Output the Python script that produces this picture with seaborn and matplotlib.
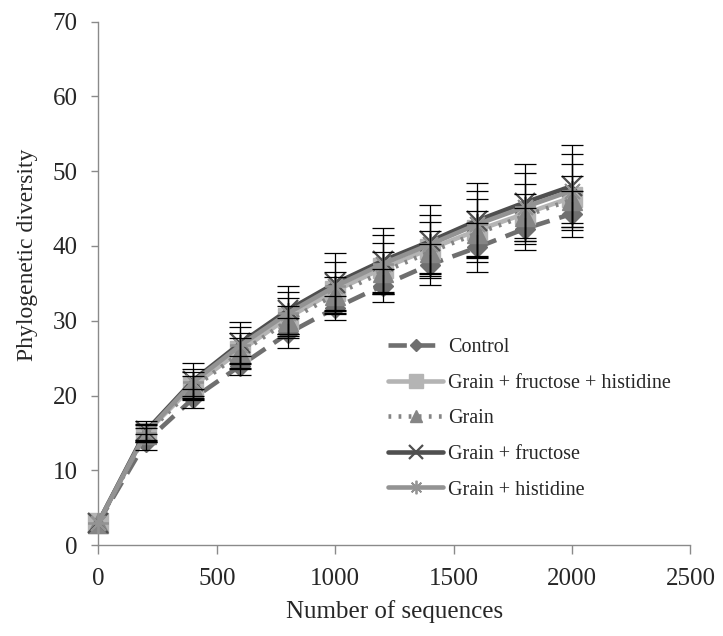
import matplotlib
matplotlib.use("Agg")
import matplotlib.pyplot as plt
import seaborn as sns
import pandas as pd

# Rarefaction: number of sequences sampled
sequences = [0, 200, 400, 600, 800, 1000, 1200, 1400, 1600, 1800, 2000]

# Mean phylogenetic diversity per treatment
control = [3.0, 13.8, 19.6, 24.0, 28.3, 31.7, 34.7, 37.5, 39.8, 42.3, 44.3]
grain_fru_his = [3.0, 15.0, 21.3, 26.0, 30.4, 34.0, 37.0, 39.6, 42.1, 44.3, 46.5]
grain = [3.0, 14.8, 21.0, 25.7, 30.0, 33.5, 36.5, 39.2, 41.7, 44.0, 46.2]
grain_fru = [3.0, 15.2, 22.0, 27.0, 31.4, 35.0, 38.0, 40.6, 43.4, 45.8, 48.0]
grain_his = [3.0, 15.0, 21.8, 26.7, 31.0, 34.6, 37.6, 40.2, 42.9, 45.2, 47.4]

# Error (± one standard deviation)
control_err = [0, 1.1, 1.3, 1.3, 2.0, 1.6, 2.2, 2.7, 3.3, 2.8, 3.1]
grain_fru_his_err = [0, 1.0, 1.8, 2.4, 2.7, 2.5, 3.4, 3.6, 4.2, 4.0, 4.4]
grain_err = [0, 0.9, 1.6, 2.0, 2.0, 2.4, 2.7, 2.8, 3.0, 2.9, 3.1]
grain_fru_err = [0, 1.4, 2.4, 2.8, 3.2, 4.1, 4.4, 4.9, 5.0, 5.2, 5.5]
grain_his_err = [0, 1.2, 1.8, 2.4, 2.8, 3.3, 3.9, 4.0, 4.4, 4.6, 4.9]

labels = ["Control", "Grain + fructose + histidine", "Grain",
          "Grain + fructose", "Grain + histidine"]
means = [control, grain_fru_his, grain, grain_fru, grain_his]
errors = [control_err, grain_fru_his_err, grain_err, grain_fru_err, grain_his_err]

colors = ["#6f6f6f", "#b4b4b4", "#858585", "#4f4f4f", "#939393"]
linestyles = [(0, (4, 2.2)), "-", (0, (0.6, 1.6)), "-", "-"]
markers = ["D", "s", "^", "x", (8, 2, 0)]
msizes = [10, 15, 14, 15, 15]
medges = [1.0, 1.0, 1.0, 1.6, 1.3]

frames = []
for lab, m, e in zip(labels, means, errors):
    frames.append(pd.DataFrame({"sequences": sequences, "pd": m, "err": e,
                                "treatment": lab}))
df = pd.concat(frames, ignore_index=True)

sns.set_style("white")
plt.rcParams["font.family"] = ["Liberation Serif", "DejaVu Serif"]

fig, ax = plt.subplots(figsize=(7.23, 6.36), dpi=100)
fig.subplots_adjust(left=0.136, right=0.955, top=0.966, bottom=0.143)

for i, lab in enumerate(labels):
    sub = df[df["treatment"] == lab]
    sns.lineplot(data=sub, x="sequences", y="pd", ax=ax, color=colors[i],
                 linestyle=linestyles[i], linewidth=3.3, marker=markers[i],
                 markersize=msizes[i], markeredgewidth=medges[i],
                 markeredgecolor=colors[i], label=lab, zorder=3 + i,
                 clip_on=False)

for i, lab in enumerate(labels):
    sub = df[(df["treatment"] == lab) & (df["err"] > 0)]
    ax.errorbar(sub["sequences"], sub["pd"], yerr=sub["err"], fmt="none",
                ecolor="black", elinewidth=0.9, capsize=8, capthick=0.9,
                zorder=10)

ax.set_xlim(0, 2500)
ax.set_ylim(0, 70)
ax.set_xticks(range(0, 2501, 500))
ax.set_yticks(range(0, 71, 10))
ax.set_xlabel("Number of sequences", fontsize=18)
ax.set_ylabel("Phylogenetic diversity", fontsize=17)
ax.xaxis.set_label_coords(0.5, -0.105)
ax.yaxis.set_label_coords(-0.102, 0.554)
ax.tick_params(axis="both", labelsize=18, direction="out", color="#8a8a8a",
               width=1.0, pad=10, left=True, bottom=True)
ax.tick_params(axis="y", length=5)
ax.tick_params(axis="x", length=6.5)

for side in ["top", "right"]:
    ax.spines[side].set_visible(False)
for side in ["left", "bottom"]:
    ax.spines[side].set_color("#8a8a8a")
    ax.spines[side].set_linewidth(1.0)

ax.legend(loc="upper left", bbox_to_anchor=(388 / 723, 1 - 338 / 636),
          bbox_transform=fig.transFigure, frameon=False, fontsize=14.5,
          handlelength=2.75, handletextpad=0.25, labelspacing=0.82,
          borderpad=0, borderaxespad=0, markerscale=0.65)

fig.savefig("out.png", dpi=100)
